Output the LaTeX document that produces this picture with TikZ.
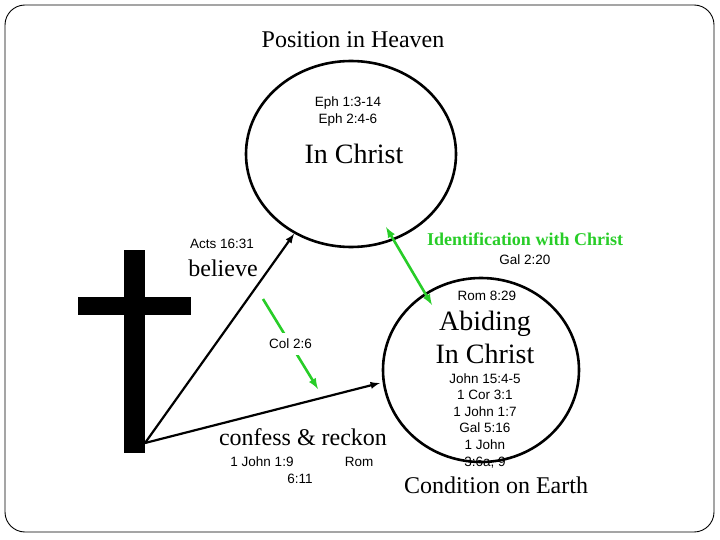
\documentclass[tikz,border=0pt]{standalone}
\usepackage{fontspec}
\setmainfont{Liberation Serif}
\setsansfont{Liberation Sans}
\usetikzlibrary{shapes.geometric}
\definecolor{idgreen}{RGB}{40,205,40}
\tikzset{
  refs/.style={font=\sffamily\fontsize{13.5}{16.5}\selectfont, anchor=base, inner sep=0pt},
  word/.style={font=\fontsize{24}{28}\selectfont, anchor=base, inner sep=0pt},
  bigword/.style={font=\fontsize{28}{33}\selectfont, anchor=base, inner sep=0pt},
  orb/.style={draw, ellipse, line width=2.6pt, inner sep=0pt},
  link/.style={->, line width=2.2pt},
  glink/.style={idgreen, line width=2.6pt},
}
\begin{document}
\begin{tikzpicture}[>=latex, x=1pt, y=-1pt]
\useasboundingbox (0,0) rectangle (720,540);
\draw[line width=0.9pt, rounded corners=20pt] (5,5) rectangle (714,532);
% circles
\node[orb, minimum width=210pt, minimum height=186pt] (heaven) at (351,154) {};
\node[orb, minimum width=196pt, minimum height=184pt] (earth) at (481,370) {};
% heaven texts
\node[word] (title) at (353,48) {Position in Heaven};
\node[refs] (eph1) at (348,107) {Eph 1:3-14};
\node[refs] (eph2) at (348,124) {Eph 2:4-6};
\node[bigword] (inchrist) at (354,164) {In Christ};
% earth texts
\node[refs] (rom8) at (487,300) {Rom 8:29};
\node[bigword] (abiding) at (485,330) {Abiding};
\node[bigword] (abiding2) at (485,363) {In Christ};
\foreach \t [count=\i] in {John 15:4-5, 1 Cor 3:1, 1 John 1:7, Gal 5:16, 1 John, {3:6a, 9}}
  \node[refs] (list\i) at (485,{383+16.6*(\i-1)}) {\t};
\node[word] (earthname) at (496,493) {Condition on Earth};
% cross
\fill (124,250) rectangle (145,453);
\fill (78,297) rectangle (191,315);
\coordinate (foot) at (145,443);
\coordinate (abide) at (380,383);
% black arrows
\draw[link] (foot) -- (heaven);
\draw[link] (foot) -- (abide);
\node[refs] (acts) at (222,248) {Acts 16:31};
\node[word] (believe) at (223,276) {believe};
\node[word] (confess) at (303,445) {confess \& reckon};
\node[refs] (john19) at (262,466) {1 John 1:9};
\node[refs] (rom6) at (359,466) {Rom};
\node[refs] (rom6b) at (300,483) {6:11};
% green arrows
\coordinate (idtop) at (386,227);
\coordinate (idbot) at (432,305);
\draw[glink, <->] (idtop) -- (idbot);
\node[font=\bfseries\fontsize{18}{21}\selectfont, text=idgreen, anchor=base, inner sep=0pt] (ident) at (525,245) {Identification with Christ};
\node[refs] (gal2) at (525,264) {Gal 2:20};
\coordinate (colA) at (263,299);
\coordinate (colB) at (318,389);
\draw[glink, ->] (colA) -- node[refs, anchor=center, text=black, fill=white, inner xsep=1pt, inner ysep=6pt] (col) {Col 2:6} (colB);
\end{tikzpicture}
\end{document}
